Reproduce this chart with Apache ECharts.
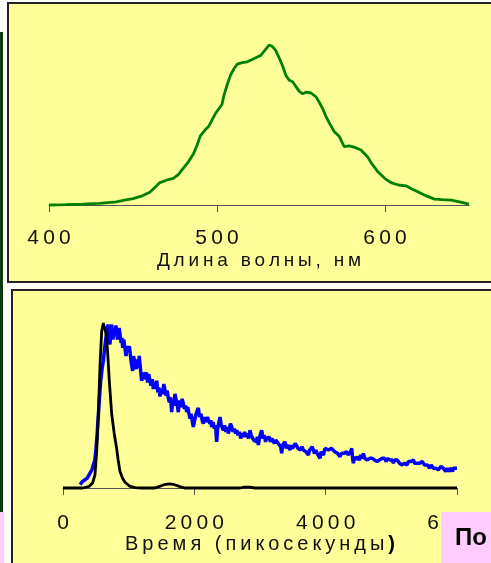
<!DOCTYPE html>
<html>
<head>
<meta charset="utf-8">
<script src="https://cdn.jsdelivr.net/npm/echarts@6/dist/echarts.min.js"></script>
<style>
  html, body { margin: 0; padding: 0; background: #ffffff; }
  #chart { width: 491px; height: 563px; }
</style>
</head>
<body>
<div id="chart"></div>
<script>
// спектр (длина волны, нм -> интенсивность)
const spectrumGreen = [
  [400, 0], [410, 0.002], [420, 0.005], [430, 0.01], [440, 0.02], [445, 0.03],
  [450, 0.04], [455, 0.055], [460, 0.08], [463, 0.11], [466, 0.14], [470, 0.155],
  [474, 0.167], [477, 0.19], [480, 0.23], [483, 0.27], [486, 0.32], [488, 0.37],
  [490, 0.43], [493, 0.47], [495, 0.49], [497, 0.53], [499, 0.57], [501, 0.6],
  [503, 0.63], [504, 0.68], [506, 0.75], [508, 0.81], [510, 0.85], [512, 0.88],
  [515, 0.89], [518, 0.895], [521, 0.91], [524, 0.925], [526, 0.935], [528, 0.96],
  [531, 1.0], [533, 0.99], [535, 0.965], [537, 0.92], [539, 0.87], [541, 0.81],
  [543, 0.78], [545, 0.77], [547, 0.74], [549, 0.71], [551, 0.695], [553, 0.705],
  [556, 0.70], [559, 0.675], [561, 0.64], [563, 0.6], [565, 0.55], [567, 0.51],
  [569.7, 0.46], [572.7, 0.43], [575.7, 0.365], [578.7, 0.37], [582, 0.36], [585.7, 0.344],
  [589.7, 0.30], [592, 0.26], [595.6, 0.21], [600, 0.165], [603.6, 0.14], [608, 0.125],
  [612.5, 0.12], [616, 0.10], [619.5, 0.083], [624, 0.06], [629.4, 0.037], [634, 0.033],
  [639.4, 0.03], [645, 0.018], [650, 0.006]
];

// кинетика люминесценции (время, пс -> интенсивность)
const decayBlue = [
  [259, 0.02], [300, 0.04], [335, 0.05], [370, 0.06], [411, 0.09], [440, 0.11], [462, 0.12],
  [485, 0.17], [503, 0.24], [520, 0.33], [538, 0.44], [556, 0.55], [574, 0.65], [594, 0.72],
  [614, 0.77], [635, 0.85], [655, 0.91], [672, 0.97], [690, 0.99], [705, 0.9], [716, 0.87],
  [728, 0.97], [741, 0.99], [760, 0.9], [775, 0.95], [792, 0.93], [805, 0.985], [817, 0.98],
  [830, 0.9], [843, 0.89], [855, 0.97], [868, 0.97], [885, 0.88], [897, 0.91], [909, 0.85],
  [925, 0.9], [944, 0.89], [960, 0.8], [975, 0.86], [995, 0.83], [1010, 0.86], [1020, 0.85],
  [1040, 0.76], [1061, 0.71], [1075, 0.8], [1097, 0.79], [1115, 0.72], [1130, 0.78], [1147, 0.73],
  [1160, 0.80], [1173, 0.79], [1185, 0.7], [1198, 0.65], [1215, 0.7], [1230, 0.66], [1249, 0.66],
  [1270, 0.7], [1290, 0.64], [1305, 0.69], [1325, 0.68], [1340, 0.62], [1360, 0.66], [1376, 0.60],
  [1395, 0.64], [1410, 0.6], [1427, 0.65], [1445, 0.58], [1460, 0.61], [1477, 0.555], [1495, 0.6],
  [1515, 0.57], [1535, 0.63], [1553, 0.62], [1570, 0.56], [1585, 0.59], [1604, 0.545], [1620, 0.52],
  [1640, 0.55], [1655, 0.46], [1670, 0.52], [1690, 0.5], [1705, 0.57], [1721, 0.565], [1740, 0.5],
  [1756, 0.46], [1775, 0.53], [1795, 0.49], [1815, 0.54], [1832, 0.535], [1850, 0.48], [1868, 0.5],
  [1883, 0.46], [1900, 0.49], [1918, 0.45], [1934, 0.42], [1950, 0.45], [1970, 0.40], [1985, 0.37],
  [1995, 0.38], [2020, 0.44], [2045, 0.47], [2061, 0.485], [2080, 0.43], [2100, 0.45], [2120, 0.41],
  [2137, 0.39], [2160, 0.43], [2180, 0.40], [2200, 0.43], [2213, 0.42], [2235, 0.39], [2250, 0.41],
  [2264, 0.37], [2285, 0.4], [2305, 0.36], [2322, 0.38], [2340, 0.28], [2355, 0.36], [2375, 0.4],
  [2391, 0.43], [2410, 0.38], [2425, 0.37], [2442, 0.35], [2460, 0.38], [2480, 0.34], [2500, 0.37],
  [2518, 0.33], [2535, 0.36], [2550, 0.39], [2569, 0.37], [2590, 0.34], [2610, 0.36], [2630, 0.33],
  [2645, 0.35], [2665, 0.32], [2685, 0.34], [2705, 0.30], [2725, 0.33], [2746, 0.31], [2765, 0.34],
  [2785, 0.31], [2805, 0.33], [2825, 0.30], [2848, 0.35], [2865, 0.32], [2885, 0.33], [2905, 0.29],
  [2924, 0.30], [2945, 0.28], [2960, 0.31], [2975, 0.26], [2990, 0.3], [3010, 0.33], [3026, 0.35],
  [3045, 0.3], [3065, 0.32], [3085, 0.28], [3102, 0.30], [3120, 0.29], [3140, 0.31], [3160, 0.28],
  [3180, 0.3], [3203, 0.30], [3220, 0.27], [3240, 0.29], [3260, 0.28], [3279, 0.27], [3300, 0.26],
  [3315, 0.25], [3330, 0.21], [3345, 0.26], [3365, 0.25], [3381, 0.28], [3400, 0.24], [3420, 0.26],
  [3440, 0.25], [3457, 0.23], [3475, 0.26], [3495, 0.24], [3515, 0.25], [3535, 0.27], [3559, 0.27],
  [3580, 0.24], [3600, 0.25], [3620, 0.23], [3640, 0.25], [3660, 0.23], [3680, 0.24], [3700, 0.22],
  [3720, 0.23], [3736, 0.20], [3755, 0.23], [3775, 0.22], [3795, 0.25], [3812, 0.24], [3830, 0.21],
  [3850, 0.23], [3870, 0.21], [3890, 0.22], [3914, 0.18], [3930, 0.22], [3950, 0.23], [3965, 0.20],
  [3990, 0.24], [4016, 0.24], [4040, 0.23], [4066, 0.22], [4090, 0.24], [4117, 0.25], [4140, 0.22],
  [4160, 0.23], [4180, 0.21], [4200, 0.22], [4219, 0.19], [4240, 0.21], [4260, 0.2], [4280, 0.21],
  [4300, 0.2], [4321, 0.22], [4340, 0.2], [4360, 0.21], [4380, 0.22], [4397, 0.24], [4410, 0.18],
  [4422, 0.15], [4440, 0.19], [4460, 0.17], [4480, 0.19], [4498, 0.19], [4515, 0.17], [4535, 0.2],
  [4555, 0.18], [4574, 0.21], [4595, 0.18], [4615, 0.19], [4635, 0.17], [4650, 0.16], [4670, 0.18],
  [4690, 0.17], [4710, 0.18], [4726, 0.19], [4745, 0.17], [4765, 0.18], [4785, 0.16], [4802, 0.15],
  [4820, 0.17], [4840, 0.16], [4860, 0.18], [4878, 0.17], [4900, 0.18], [4920, 0.16], [4940, 0.18],
  [4955, 0.19], [4975, 0.17], [4995, 0.16], [5015, 0.17], [5031, 0.15], [5050, 0.17], [5070, 0.16],
  [5090, 0.17], [5107, 0.17], [5125, 0.15], [5145, 0.16], [5165, 0.14], [5183, 0.13], [5200, 0.15],
  [5220, 0.16], [5240, 0.14], [5259, 0.16], [5280, 0.15], [5300, 0.16], [5320, 0.17], [5335, 0.17],
  [5355, 0.15], [5375, 0.16], [5395, 0.15], [5411, 0.14], [5430, 0.15], [5450, 0.14], [5470, 0.16],
  [5487, 0.15], [5505, 0.14], [5525, 0.13], [5545, 0.14], [5564, 0.13], [5585, 0.12], [5605, 0.14],
  [5625, 0.13], [5640, 0.12], [5660, 0.11], [5680, 0.12], [5700, 0.11], [5716, 0.11], [5735, 0.12],
  [5755, 0.13], [5775, 0.12], [5792, 0.12], [5810, 0.11], [5830, 0.1], [5850, 0.12], [5868, 0.10],
  [5890, 0.11], [5910, 0.12], [5930, 0.10], [5944, 0.12], [5970, 0.11], [6000, 0.12]
];

// аппаратная функция (время, пс -> интенсивность)
const responseBlack = [
  [0, 0], [300, 0], [400, 0.01], [450, 0.03], [487, 0.08], [513, 0.22], [538, 0.44],
  [563, 0.74], [589, 0.95], [614, 1.0], [640, 0.99], [660, 0.93], [680, 0.82], [705, 0.65],
  [741, 0.45], [780, 0.33], [817, 0.24], [840, 0.17], [868, 0.10], [905, 0.06], [944, 0.035],
  [1020, 0.01], [1100, 0.002], [1200, 0], [1400, 0], [1470, 0.01], [1540, 0.02], [1620, 0.025],
  [1700, 0.02], [1780, 0.008], [1850, 0], [2700, 0], [2760, 0.005], [2850, 0.005], [2920, 0],
  [6000, 0]
];

const wavelengthTicks = [400, 500, 600];
const timeTicks = [0, 2000, 4000, 6000];

const FONT = '"Liberation Sans", Arial, sans-serif';
// разрядка букв как на слайде
const spaced = s => String(s).split('').join('\u2009');

const chart = echarts.init(document.getElementById('chart'), null, { renderer: 'canvas' });

const axisCommon = {
  axisLine: { lineStyle: { color: '#555', width: 1 } },
  axisTick: { length: 7, lineStyle: { color: '#555', width: 1 } },
  splitLine: { show: false },
  nameLocation: 'middle',
  nameTextStyle: { fontFamily: FONT, fontSize: 20, color: '#111' }
};

const option = {
  backgroundColor: '#ffffff',
  animation: false,
  graphic: [
    { type: 'rect', z: -1, shape: { x: 0, y: 32, width: 3, height: 480 }, style: { fill: '#0b3a0b' } },
    { type: 'rect', z: -1, shape: { x: 0, y: 512, width: 4, height: 51 }, style: { fill: '#ffccff' } },
    { type: 'rect', z: -1, shape: { x: 8, y: 3, width: 500, height: 279 }, style: { fill: '#ffff99', stroke: '#222', lineWidth: 2 } },
    { type: 'rect', z: -1, shape: { x: 12, y: 290, width: 500, height: 300 }, style: { fill: '#ffff99', stroke: '#222', lineWidth: 2 } },
    { type: 'rect', z: 100, shape: { x: 441, y: 512, width: 60, height: 60 }, style: { fill: '#ffccff' } },
    { type: 'text', z: 101, x: 455, y: 538, style: { text: 'По', font: 'bold 24px ' + FONT, fill: '#000', textVerticalAlign: 'middle' } }
  ],
  grid: [
    { left: 49, width: 420, top: 45, height: 160 },
    { left: 63, width: 394, top: 323, height: 165 }
  ],
  xAxis: [
    Object.assign({}, axisCommon, {
      gridIndex: 0, type: 'value', min: 400, max: 650,
      name: spaced('Длина волны, нм'), nameGap: 46,
      nameTextStyle: { fontFamily: FONT, fontSize: 19, color: '#111' },
      axisTick: Object.assign({}, axisCommon.axisTick, { customValues: wavelengthTicks }),
      axisLabel: {
        customValues: wavelengthTicks, margin: 23,
        fontFamily: FONT, fontSize: 21, color: '#111', formatter: v => spaced(v)
      }
    }),
    Object.assign({}, axisCommon, {
      gridIndex: 1, type: 'value', min: 0, max: 6000, interval: 2000,
      name: '{n|' + spaced('Время (пикосекунды') + '\u2009}{b|)}', nameGap: 46,
      nameTextStyle: {
        fontFamily: FONT, fontSize: 20, color: '#111',
        rich: {
          n: { fontFamily: FONT, fontSize: 20, color: '#111' },
          b: { fontFamily: FONT, fontSize: 20, color: '#000', fontWeight: 'bold' }
        }
      },
      axisTick: Object.assign({}, axisCommon.axisTick, { customValues: timeTicks }),
      axisLabel: {
        customValues: timeTicks, margin: 25,
        fontFamily: FONT, fontSize: 21, color: '#111', formatter: v => spaced(v)
      }
    })
  ],
  yAxis: [
    { gridIndex: 0, type: 'value', min: 0, max: 1, show: false },
    { gridIndex: 1, type: 'value', min: 0, max: 1, show: false }
  ],
  series: [
    {
      type: 'line', xAxisIndex: 0, yAxisIndex: 0, data: spectrumGreen,
      showSymbol: false, clip: false, lineStyle: { color: '#008000', width: 2.8 }
    },
    {
      type: 'line', xAxisIndex: 1, yAxisIndex: 1, data: decayBlue,
      showSymbol: false, clip: false, lineStyle: { color: '#0000ff', width: 3.5 }
    },
    {
      type: 'line', xAxisIndex: 1, yAxisIndex: 1, data: responseBlack, z: 3,
      showSymbol: false, clip: false, lineStyle: { color: '#000000', width: 2.8 }
    }
  ]
};

chart.setOption(option);
</script>
</body>
</html>
